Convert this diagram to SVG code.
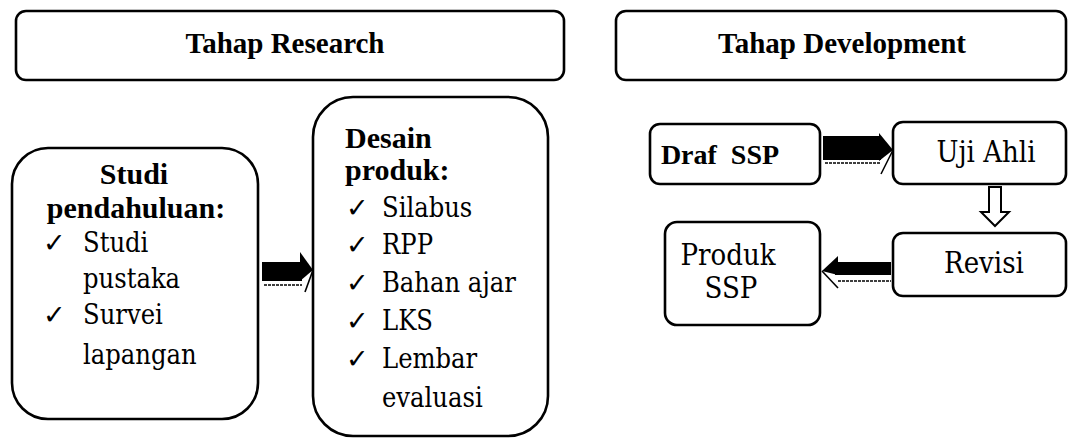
<svg xmlns="http://www.w3.org/2000/svg" width="1075" height="439" viewBox="0 0 1075 439">
  <style>
    .box { fill: #fff; stroke: #000; stroke-width: 2.6; }
    .t { font-family: "DejaVu Serif Condensed", "DejaVu Serif", serif; font-stretch: condensed; fill: #000; }
    .b { font-family: "Liberation Serif", "DejaVu Serif", serif; font-stretch: normal; font-weight: bold; }
    .h { font-size: 29px; }
    .bm { font-size: 30px; }
    .m { font-size: 27px; }
    .r { font-size: 29px; }
    .arr { fill: #000; stroke: none; }
    .thin { fill: none; stroke: #000; stroke-width: 1.6; }
    .hollow { fill: #fff; stroke: #000; stroke-width: 2; stroke-linejoin: miter; }
  </style>

  <rect width="1075" height="439" fill="#fff"/>

  <!-- phase headers -->
  <g id="header-research">
    <rect class="box" x="16" y="11" width="548" height="69" rx="10"/>
    <text class="t b h" x="285" y="53" text-anchor="middle">Tahap Research</text>
  </g>
  <g id="header-development">
    <rect class="box" x="616" y="11" width="450" height="69" rx="10"/>
    <text class="t b h" x="842" y="53" text-anchor="middle">Tahap Development</text>
  </g>

  <!-- research stage -->
  <g id="studi-pendahuluan">
    <rect class="box" x="12" y="148" width="246" height="271" rx="36"/>
    <text class="t b bm" x="134" y="184" text-anchor="middle">Studi</text>
    <text class="t b bm" x="136" y="218" text-anchor="middle">pendahuluan:</text>
    <text class="t m" x="43" y="252">✓</text>
    <text class="t m" x="83" y="252">Studi</text>
    <text class="t m" x="83" y="288">pustaka</text>
    <text class="t m" x="43" y="324">✓</text>
    <text class="t m" x="83" y="324">Survei</text>
    <text class="t m" x="83" y="364">lapangan</text>
  </g>

  <g id="desain-produk">
    <rect class="box" x="313" y="97" width="235" height="339" rx="40"/>
    <text class="t b bm" x="345" y="148">Desain</text>
    <text class="t b bm" x="345" y="180">produk:</text>
    <text class="t m" x="346" y="217">✓</text>
    <text class="t m" x="382" y="217">Silabus</text>
    <text class="t m" x="346" y="254">✓</text>
    <text class="t m" x="382" y="254">RPP</text>
    <text class="t m" x="346" y="292">✓</text>
    <text class="t m" x="382" y="292">Bahan ajar</text>
    <text class="t m" x="346" y="330">✓</text>
    <text class="t m" x="382" y="330">LKS</text>
    <text class="t m" x="346" y="368">✓</text>
    <text class="t m" x="382" y="368">Lembar</text>
    <text class="t m" x="382" y="407">evaluasi</text>
  </g>

  <!-- development stage -->
  <g id="draf-ssp">
    <rect class="box" x="650" y="124" width="170" height="60" rx="10"/>
    <text class="t b" x="720" y="164" font-size="28" text-anchor="middle" xml:space="preserve">Draf  SSP</text>
  </g>
  <g id="uji-ahli">
    <rect class="box" x="893" y="122" width="173" height="62" rx="10"/>
    <text class="t r" x="986" y="162" text-anchor="middle">Uji Ahli</text>
  </g>
  <g id="revisi">
    <rect class="box" x="893" y="233" width="173" height="63" rx="10"/>
    <text class="t r" x="984" y="273" text-anchor="middle">Revisi</text>
  </g>
  <g id="produk-ssp">
    <rect class="box" x="665" y="222" width="155" height="103" rx="12"/>
    <text class="t r" x="728" y="265" text-anchor="middle">Produk</text>
    <text class="t r" x="731" y="298" text-anchor="middle">SSP</text>
  </g>

  <!-- connectors -->
  <g id="connectors">
    <!-- studi -> desain -->
    <rect class="arr" x="262" y="262" width="40" height="19"/>
    <polygon class="arr" points="300,252 313,270 300,281"/>
    <line class="thin" x1="264" y1="285" x2="302" y2="285" stroke-dasharray="3 1"/>
    <line class="thin" x1="313" y1="270" x2="305" y2="292"/>

    <!-- draf -> uji ahli -->
    <rect class="arr" x="823" y="136" width="58" height="24"/>
    <polygon class="arr" points="879,133 893,150 879,161"/>
    <line class="thin" x1="825" y1="163" x2="880" y2="163" stroke-dasharray="3 1"/>
    <line class="thin" x1="893" y1="150" x2="881" y2="174"/>

    <!-- uji ahli -> revisi -->
    <polygon class="hollow" points="989,187 1001,187 1001,212 1009,212 995,226 981,212 989,212"/>

    <!-- revisi -> produk -->
    <rect class="arr" x="835" y="262" width="56" height="13"/>
    <polygon class="arr" points="838,256 822,271 838,275"/>
    <line class="thin" x1="838" y1="281" x2="891" y2="281" stroke-dasharray="3 1"/>
    <line class="thin" x1="822" y1="271" x2="838" y2="288"/>
  </g>
</svg>
